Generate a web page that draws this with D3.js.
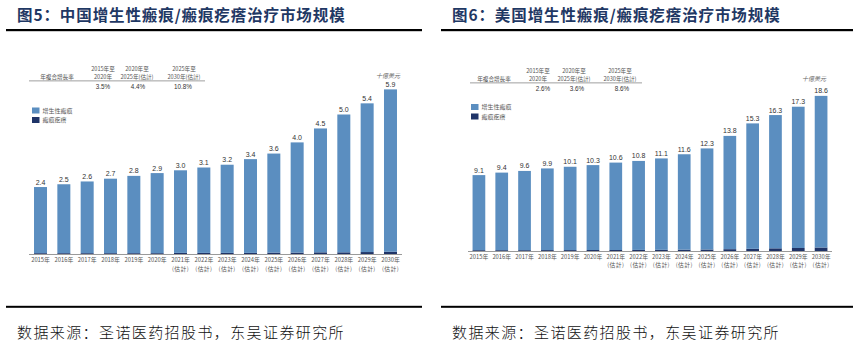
<!DOCTYPE html>
<html><head><meta charset="utf-8">
<script src="https://cdn.jsdelivr.net/npm/d3@7"></script>
<style>
html,body{margin:0;padding:0;background:#fff;}
svg{display:block;}
</style></head>
<body>
<svg id="c" width="854" height="348"></svg>
<script>
// ---------- data ----------
const years = ["2015年","2016年","2017年","2018年","2019年","2020年","2021年","2022年","2023年","2024年","2025年","2026年","2027年","2028年","2029年","2030年"];
const estimated = [false,false,false,false,false,false,true,true,true,true,true,true,true,true,true,true];
const estLabel = "(估計)";

const cnTotals = [2.4,2.5,2.6,2.7,2.8,2.9,3.0,3.1,3.2,3.4,3.6,4.0,4.5,5.0,5.4,5.9];
const cnHypertrophic = [2.37,2.47,2.57,2.67,2.77,2.87,2.96,3.06,3.16,3.36,3.55,3.95,4.44,4.94,5.33,5.82];
const cnKeloid = [0.03,0.03,0.03,0.03,0.03,0.03,0.04,0.04,0.04,0.04,0.05,0.05,0.06,0.06,0.07,0.08];

const usTotals = [9.1,9.4,9.6,9.9,10.1,10.3,10.6,10.8,11.1,11.6,12.3,13.8,15.3,16.3,17.3,18.6];
const usHypertrophic = [9.0,9.3,9.5,9.79,9.99,10.18,10.48,10.67,10.96,11.44,12.12,13.58,15.04,15.98,16.94,18.18];
const usKeloid = [0.1,0.1,0.1,0.11,0.11,0.12,0.12,0.13,0.14,0.16,0.18,0.22,0.26,0.32,0.36,0.42];

const cagrHeader = "年複合增長率";
const cagrPeriods = [["2015年至","2020年"],["2020年至","2025年(估計)"],["2025年至","2030年(估計)"]];
const cnCagr = ["3.5%","4.4%","10.8%"];
const usCagr = ["2.6%","3.6%","8.6%"];
const legendNames = ["增生性瘢痕","瘢痕疙瘩"];
const unitLabel = "十億美元";
const titles = ["图5：中国增生性瘢痕/瘢痕疙瘩治疗市场规模","图6：美国增生性瘢痕/瘢痕疙瘩治疗市场规模"];
const sourceText = "数据来源：圣诺医药招股书，东吴证券研究所";

// ---------- drawing ----------
const svg = d3.select("#c");
const C_LIGHT = "#5b8ec0", C_DARK = "#1f3468", TITLE = "#1f3864";
const smallFont = "'Noto Sans CJK TC','Noto Sans CJK SC',sans-serif";

function panel(cfg){
  const g = svg.append("g");
  g.append("text").attr("x", cfg.px+11).attr("y", 21)
    .attr("font-family","'Noto Sans CJK SC',sans-serif").attr("font-weight",700)
    .attr("font-size",15.5).attr("fill",TITLE).attr("letter-spacing",0.9)
    .text(cfg.title);
  g.append("rect").attr("x",cfg.px).attr("y",29).attr("width",cfg.pw).attr("height",2.2).attr("fill","#000");
  g.append("rect").attr("x",cfg.px).attr("y",305.8).attr("width",cfg.pw).attr("height",2).attr("fill","#000");
  g.append("text").attr("x", cfg.px+11).attr("y", 338)
    .attr("font-family","'Noto Sans CJK SC',sans-serif").attr("font-weight",300)
    .attr("font-size",15).attr("fill","#111").attr("letter-spacing",1.4)
    .text(sourceText);

  const x = d3.scaleBand().domain(years).range([cfg.x0, cfg.x1]).paddingInner(0.443).paddingOuter(cfg.po);
  const y = d3.scaleLinear().domain([0, cfg.ymax]).range([cfg.base, cfg.base - cfg.ymax*cfg.ppu]);

  const stack = d3.stack().keys(["k","h"])(years.map((yr,i)=>({yr, k:cfg.keloid[i], h:cfg.hyper[i]})));
  const cols = {k:C_DARK, h:C_LIGHT};
  stack.forEach(s=>{
    g.append("g").selectAll("rect").data(s).join("rect")
      .attr("x", d=>x(d.data.yr)).attr("width", x.bandwidth())
      .attr("y", d=>y(d[1])).attr("height", d=>y(d[0])-y(d[1]))
      .attr("fill", cols[s.key]);
  });
  g.append("g").selectAll("text").data(years).join("text")
    .attr("x", d=>x(d)+x.bandwidth()/2).attr("y",(d,i)=>y(cfg.totals[i])-2.5)
    .attr("text-anchor","middle").attr("font-family","Arial, 'Liberation Sans', sans-serif")
    .attr("font-size",7).attr("fill","#333").text((d,i)=>cfg.totals[i].toFixed(1));
  const ax = g.append("g").attr("transform",`translate(0,${cfg.base})`)
    .call(d3.axisBottom(x).tickSize(0).tickPadding(0).tickFormat(""));
  ax.select(".domain").attr("stroke","#9a9a9a").attr("stroke-width",1)
    .attr("d",`M${cfg.x0},0.5H${cfg.x1}`);
  ax.selectAll(".tick").each(function(d,i){
    const tk = d3.select(this);
    tk.append("text").attr("fill","#555").attr("font-family",smallFont).attr("font-size",5.8)
      .attr("text-anchor","middle").attr("y",cfg.tickDy).text(d);
    if(estimated[i]) tk.append("text").attr("fill","#555").attr("font-family",smallFont).attr("font-size",5.8)
      .attr("text-anchor","middle").attr("y",cfg.tickDy+8.5).attr("letter-spacing",0.4).text(estLabel);
  });
  const tg = g.append("g").attr("font-family",smallFont).attr("font-size",5.6).attr("fill","#555");
  tg.append("text").attr("x",cfg.tbl.hx).attr("y",cfg.tbl.y2).attr("text-anchor","middle").text(cagrHeader);
  cagrPeriods.forEach((p,i)=>{
    tg.append("text").attr("x",cfg.tbl.cx[i]).attr("y",cfg.tbl.y1).attr("text-anchor","middle").text(p[0]);
    tg.append("text").attr("x",cfg.tbl.cx[i]).attr("y",cfg.tbl.y2).attr("text-anchor","middle").text(p[1]);
    tg.append("text").attr("x",cfg.tbl.vx[i]).attr("y",cfg.tbl.vy).attr("text-anchor","middle")
      .attr("fill","#333").attr("font-size",6.3).attr("font-family","Arial, 'Liberation Sans', sans-serif").text(cfg.cagr[i]);
  });
  tg.append("rect").attr("x",cfg.tbl.rx0).attr("y",cfg.tbl.ry).attr("width",cfg.tbl.rx1-cfg.tbl.rx0).attr("height",0.8).attr("fill","#888");
  [C_LIGHT, C_DARK].forEach((c,i)=>{
    g.append("rect").attr("x",cfg.leg.x).attr("y",cfg.leg.y+i*cfg.leg.dy).attr("width",7.5).attr("height",6).attr("fill",c);
    g.append("text").attr("x",cfg.leg.x+10.5).attr("y",cfg.leg.y+i*cfg.leg.dy+5.3)
      .attr("font-family",smallFont).attr("font-size",6).attr("fill","#555").text(legendNames[i]);
  });
  g.append("text").attr("x",cfg.unit.x).attr("y",cfg.unit.y).attr("text-anchor","end")
    .attr("font-family",smallFont).attr("font-size",6).attr("font-style","italic").attr("fill","#666").text(unitLabel);
}

panel({
  title:titles[0], px:6, pw:416,
  x0:29, x1:402, po:0.215, base:254, ppu:27.9, ymax:6,
  totals:cnTotals, hyper:cnHypertrophic, keloid:cnKeloid, tickDy:8,
  cagr:cnCagr,
  tbl:{hx:57, cx:[103,137,184], vx:[103,138,183], y1:71, y2:78.5, vy:89, rx0:29, rx1:205, ry:80.5},
  leg:{x:32, y:107.5, dy:9.5},
  unit:{x:400, y:78}
});
panel({
  title:titles[1], px:441, pw:412,
  x0:468, x1:832, po:0.2, base:251, ppu:8.34, ymax:19,
  totals:usTotals, hyper:usHypertrophic, keloid:usKeloid, tickDy:7.7,
  cagr:usCagr,
  tbl:{hx:494, cx:[538,574,620], vx:[543,577,622], y1:73, y2:80.5, vy:91, rx0:470, rx1:642, ry:82.5},
  leg:{x:471, y:104, dy:9.5},
  unit:{x:826, y:81}
});
</script>
</body></html>
